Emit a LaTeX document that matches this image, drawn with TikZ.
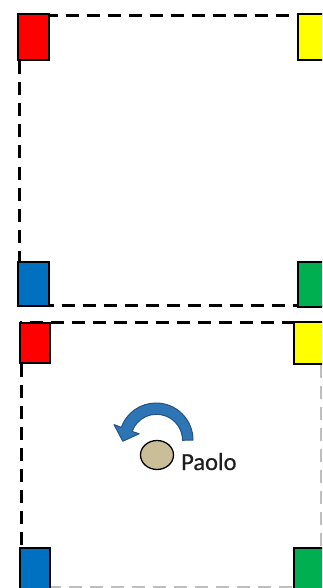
\documentclass[tikz,border=0pt]{standalone}
\usepackage{fontspec}
\setmainfont{Carlito}
\newfontfamily\labelfont[FakeBold=0.6]{Carlito}
\usetikzlibrary{shapes.geometric}
\definecolor{cred}{RGB}{255,0,0}
\definecolor{cyellow}{RGB}{255,255,0}
\definecolor{cblue}{RGB}{0,112,192}
\definecolor{cgreen}{RGB}{0,176,80}
\definecolor{arrowfill}{RGB}{46,117,182}
\definecolor{arrowline}{RGB}{37,82,128}
\definecolor{dotfill}{RGB}{201,190,152}
\definecolor{fadeline}{RGB}{190,190,190}
\tikzset{
  cornerbox/.style={draw=black, line width=1.2pt, inner sep=0pt, rectangle},
  border/.style={draw=black, line width=3.5pt, dash pattern=on 13pt off 8pt},
  fadeborder/.style={draw=fadeline, line width=2pt, dash pattern=on 13pt off 8pt},
}
\begin{document}
\begin{tikzpicture}[x=1pt,y=-1pt]
\useasboundingbox (0,0) rectangle (322,588);
\clip (0,0) rectangle (322,588);
% top panel border
\draw[border] (19.5,305.5) -- (19.5,15.5) -- (340,15.5);
\draw[border] (19.5,305.5) -- (340,305.5);
% bottom panel border
\draw[fadeborder] (321,322.5) -- (321,587) -- (21,587);
\draw[border, line width=3pt] (21,587) -- (21,322.5) -- (340,322.5);
% top panel corners
\node[cornerbox, fill=cred, minimum width=31pt, minimum height=46pt] (red1) at (33.5,37) {};
\node[cornerbox, fill=cyellow, minimum width=42pt, minimum height=46pt] (yellow1) at (319,37) {};
\node[cornerbox, fill=cblue, minimum width=31pt, minimum height=44pt] (blue1) at (33.5,284) {};
\node[cornerbox, fill=cgreen, minimum width=42pt, minimum height=45pt] (green1) at (319,284.5) {};
% bottom panel corners
\node[cornerbox, fill=cred, minimum width=30pt, minimum height=40pt] (red2) at (35,343) {};
\node[cornerbox, fill=cyellow, minimum width=42pt, minimum height=42pt] (yellow2) at (315,343) {};
\node[cornerbox, fill=cblue, minimum width=30pt, minimum height=48pt] (blue2) at (35,572) {};
\node[cornerbox, fill=cgreen, minimum width=42pt, minimum height=48pt] (green2) at (315,572) {};
% curved arrow
\draw[fill=arrowfill, draw=arrowline, line width=1pt, line join=round]
  (193,440) arc[start angle=0, end angle=-160, radius=37]
  -- (114.0,424.6) -- (122.8,441.2) -- (139.1,433.8) -- (132.1,431.4)
  arc[start angle=-160, end angle=0, radius=26] -- cycle;
% Paolo
\node[ellipse, draw=black, line width=1.3pt, fill=dotfill, minimum width=33pt, minimum height=29pt, inner sep=0pt] (dot) at (157,455) {};
\node[anchor=base west, inner sep=0pt, text={rgb,255:red,30;green,30;blue,30}, font=\labelfont\fontsize{24.5}{24.5}\selectfont] (paolo) at (181,470) {Paolo};
\end{tikzpicture}
\end{document}
